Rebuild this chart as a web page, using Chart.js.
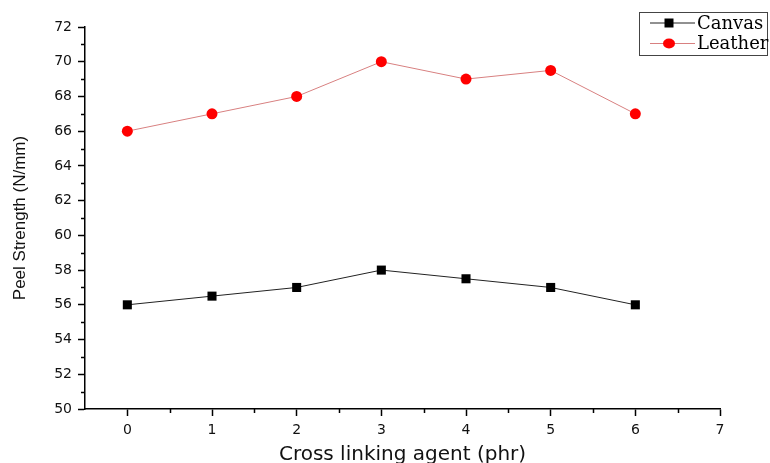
<!DOCTYPE html>
<html>
<head>
<meta charset="utf-8">
<script src="https://cdn.jsdelivr.net/npm/chart.js@4.4.0/dist/chart.umd.min.js"></script>
<style>
  html, body { margin: 0; padding: 0; background: #fff; }
  #wrap { width: 770px; height: 463px; }
</style>
</head>
<body>
<div id="wrap"><canvas id="peelChart" width="770" height="463"></canvas></div>
<script>
// datos
const crossLinker = [0, 1, 2, 3, 4, 5, 6];
const canvasPeel = [56, 56.5, 57, 58, 57.5, 57, 56];
const leatherPeel = [66, 67, 68, 70, 69, 69.5, 67];
const seriesNames = ['Canvas', 'Leather'];
const xTicks = [0, 1, 2, 3, 4, 5, 6, 7];
const yTicks = [50, 52, 54, 56, 58, 60, 62, 64, 66, 68, 70, 72];

const toPoints = (ys) => crossLinker.map((x, i) => ({ x: x, y: ys[i] }));

// ticks menores (cortos) dibujados con las escalas
const minorTicks = {
  id: 'minorTicks',
  afterDraw(chart) {
    const ctx = chart.ctx;
    const xs = chart.scales.x, ys = chart.scales.y;
    ctx.save();
    ctx.strokeStyle = '#000';
    ctx.lineWidth = 1.5;
    ctx.beginPath();
    for (let v = 0.5; v < 7; v += 1) {
      const px = Math.round(xs.getPixelForValue(v)) + 0.5;
      ctx.moveTo(px, ys.bottom);
      ctx.lineTo(px, ys.bottom + 4);
    }
    for (let v = 51; v < 72; v += 2) {
      const py = Math.round(ys.getPixelForValue(v)) + 0.5;
      ctx.moveTo(xs.left, py);
      ctx.lineTo(xs.left - 4, py);
    }
    ctx.stroke();
    ctx.restore();
  }
};

// leyenda con recuadro, como en la figura original
const boxLegend = {
  id: 'boxLegend',
  afterDraw(chart) {
    const ctx = chart.ctx;
    ctx.save();
    ctx.strokeStyle = '#444';
    ctx.lineWidth = 1;
    ctx.strokeRect(639.5, 12.5, 128, 43);
    chart.data.datasets.forEach((ds, i) => {
      const cy = 23 + i * 20.5;
      ctx.strokeStyle = ds.borderColor;
      ctx.lineWidth = 1;
      ctx.beginPath();
      ctx.moveTo(650, cy);
      ctx.lineTo(695, cy);
      ctx.stroke();
      ctx.fillStyle = ds.pointBackgroundColor;
      ctx.beginPath();
      if (ds.pointStyle === 'rect') {
        ctx.rect(669 - 4.5, cy - 4.5, 9, 9);
      } else {
        ctx.ellipse(669, cy, 6, 5, 0, 0, Math.PI * 2);
      }
      ctx.fill();
      ctx.fillStyle = '#000';
      ctx.font = '18px "DejaVu Serif", "Liberation Serif", serif';
      ctx.textBaseline = 'middle';
      ctx.fillText(ds.label, 697, cy + 1);
    });
    ctx.restore();
  }
};

const tickFont = { family: '"DejaVu Sans", Arial', size: 14 };

const ctx = document.getElementById('peelChart').getContext('2d');
new Chart(ctx, {
  type: 'line',
  data: {
    datasets: [{
      label: seriesNames[0],
      data: toPoints(canvasPeel),
      borderColor: '#222',
      borderWidth: 1,
      pointStyle: 'rect',
      pointRadius: 6.4,
      pointBackgroundColor: '#000',
      pointBorderWidth: 0,
      tension: 0
    }, {
      label: seriesNames[1],
      data: toPoints(leatherPeel),
      borderColor: '#d88080',
      borderWidth: 1,
      pointStyle: 'circle',
      pointRadius: 5.5,
      pointBackgroundColor: '#ff0000',
      pointBorderWidth: 0,
      tension: 0
    }]
  },
  options: {
    responsive: false,
    animation: false,
    layout: { padding: { top: 27, right: 50, left: 0, bottom: 0 } },
    plugins: { legend: { display: false }, tooltip: { enabled: false } },
    scales: {
      x: {
        type: 'linear',
        min: -0.5, max: 7,
        afterBuildTicks: (s) => { s.ticks = xTicks.map(v => ({ value: v })); },
        afterFit: (s) => { s.height = 54; },
        grid: { drawOnChartArea: false, tickLength: 7, tickColor: '#000', tickWidth: 1.5 },
        border: { color: '#000', width: 1.5 },
        ticks: { color: '#111', font: tickFont, padding: 6 },
        title: { display: true, text: 'Cross linking agent (phr)', color: '#111',
                 font: { family: '"DejaVu Sans", Arial', size: 20, lineHeight: 0.8 }, padding: 0 }
      },
      y: {
        min: 50, max: 72,
        afterBuildTicks: (s) => { s.ticks = yTicks.map(v => ({ value: v })); },
        afterFit: (s) => { s.width = 85; },
        grid: { drawOnChartArea: false, tickLength: 7, tickColor: '#000', tickWidth: 1.5 },
        border: { color: '#000', width: 1.5 },
        ticks: { color: '#111', font: tickFont, padding: 6 },
        title: { display: true, text: 'Peel Strength (N/mm)', color: '#111',
                 font: { family: 'Liberation Sans, Arial', size: 17 }, padding: { top: 10, bottom: 4 } }
      }
    }
  },
  plugins: [minorTicks, boxLegend]
});
</script>
</body>
</html>
